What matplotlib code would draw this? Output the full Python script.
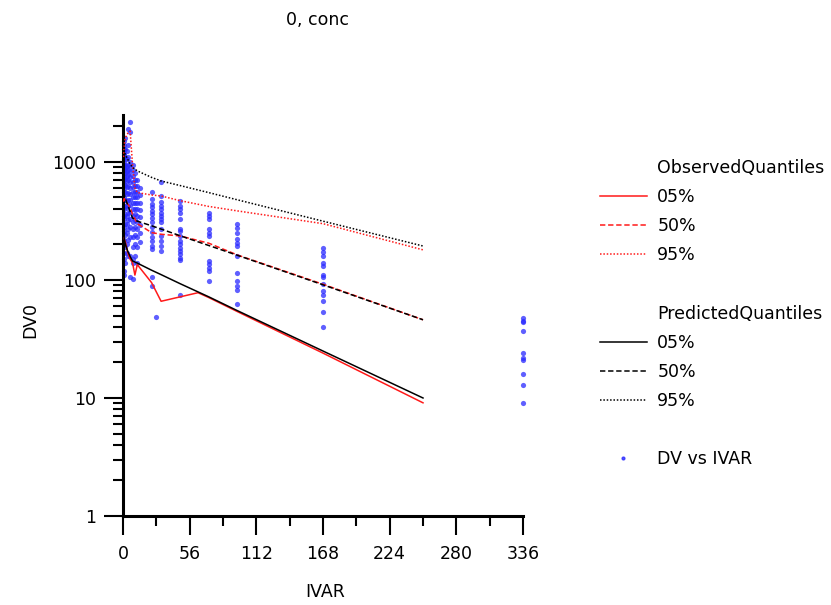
import matplotlib
matplotlib.use('Agg')
import matplotlib.pyplot as plt
from matplotlib.lines import Line2D
from matplotlib.ticker import FixedLocator, FixedFormatter, LogLocator, NullFormatter
import numpy as np

# observed data, grouped by time point
early_times = [0.5, 1, 2, 3, 4, 6, 8, 10, 12, 14]
early_values = [
    [1500, 1300, 1150, 1000, 900, 800, 700, 600, 500, 420, 350, 280, 220, 170, 120],
    [1400, 1200, 1050, 950, 850, 750, 650, 560, 480, 400, 330, 260, 200, 150, 110],
    [1600, 1300, 1100, 950, 880, 800, 720, 640, 560, 480, 420, 360, 300, 240, 190, 140],
    [1250, 1050, 920, 840, 760, 690, 610, 540, 470, 410, 350, 300, 250, 200, 170],
    [1900, 1400, 1100, 950, 850, 780, 700, 620, 550, 480, 420, 370, 320, 270, 220, 160],
    [2200, 1800, 1000, 900, 820, 750, 680, 600, 540, 480, 430, 380, 330, 280, 230, 160, 105],
    [950, 850, 760, 680, 610, 560, 500, 450, 400, 350, 310, 270, 230, 190, 150, 140, 101],
    [800, 700, 620, 560, 500, 450, 400, 360, 320, 280, 240, 200, 160],
    [700, 620, 560, 500, 450, 400, 350, 310, 270, 230, 190, 140],
    [600, 520, 450, 390, 340, 290, 250, 210],
]
late_times = [24, 28, 32, 48, 72, 96, 168, 336]
late_values = [
    [555, 484, 440, 414, 385, 361, 335, 308, 280, 254, 233, 213, 195, 182, 107, 89],
    [49],
    [671, 516, 454, 425, 398, 373, 349, 327, 307, 269, 236, 214, 194, 176],
    [468, 425, 398, 373, 327, 269, 260, 236, 214, 200, 188, 176, 165, 155, 149, 75],
    [373, 349, 327, 269, 251, 236, 145, 136, 127, 119, 98],
    [297, 278, 250, 221, 207, 194, 160, 115, 98, 89, 83, 62],
    [185, 171, 160, 140, 131, 111, 105, 92, 80, 75, 66, 54, 40],
    [48, 45, 44, 37, 24, 22, 21, 16, 13, 9],
]

# observed quantiles
obs_t05 = [0.5, 2, 4, 6, 8, 10, 12, 24, 32, 63, 72, 96, 168, 252]
obs_05 = [230, 210, 170, 150, 140, 110, 135, 95, 66, 78, 71, 54, 24, 9.1]
obs_t = [0.5, 1, 2, 4, 6, 8, 10, 12, 24, 32, 48, 72, 96, 168, 252]
obs_50 = [460, 490, 470, 440, 410, 360, 330, 300, 252, 244, 236, 205, 163, 92, 46]
obs_95 = [1100, 1400, 1600, 1750, 1820, 950, 600, 550, 525, 515, 470, 420, 385, 300, 180]

# predicted quantiles
pred_t = [0.5, 1, 2, 4, 6, 8, 12, 24, 32, 48, 72, 96, 168, 252]
pred_05 = [240, 225, 200, 175, 158, 145, 139, 121, 111, 93, 72, 55, 25, 10]
pred_50 = [560, 530, 490, 430, 380, 335, 315, 288, 270, 237, 196, 162, 91, 46]
pred_95 = [1350, 1250, 1150, 1050, 960, 900, 840, 740, 690, 631, 550, 478, 315, 194]

x_ticks = [0, 56, 112, 168, 224, 280, 336]
y_ticks = [1, 10, 100, 1000]

DASHED = (0, (3.5, 1.8))
DOTTED = (0, (1, 1.2))
RED = '#ff1a1a'
DOT_COLOR = '#2a2aff'

fig = plt.figure(figsize=(8.31, 6.05), dpi=100)
ax = fig.add_axes([123 / 831, 1 - 516 / 605, 400 / 831, 401 / 605])

xs, ys = [], []
for t, vals in zip(early_times + late_times, early_values + late_values):
    xs += [t] * len(vals)
    ys += vals
ax.scatter(xs, ys, s=14, color=DOT_COLOR, alpha=0.75, linewidths=0,
           clip_on=False, zorder=2)

lw = 1.1
ax.plot(obs_t05, obs_05, color=RED, lw=lw, ls='-', zorder=3)
ax.plot(obs_t, obs_50, color=RED, lw=lw, ls=DASHED, zorder=3)
ax.plot(obs_t, obs_95, color=RED, lw=lw, ls=DOTTED, zorder=3)
ax.plot(pred_t, pred_05, color='black', lw=lw, ls='-', zorder=3)
ax.plot(pred_t, pred_50, color='black', lw=lw, ls=DASHED, zorder=3)
ax.plot(pred_t, pred_95, color='black', lw=lw, ls=DOTTED, zorder=3)

ax.set_yscale('log')
ax.set_xlim(0, 336)
ax.set_ylim(1, 2500)

ax.xaxis.set_major_locator(FixedLocator(x_ticks))
ax.xaxis.set_minor_locator(FixedLocator([28, 84, 140, 196, 252, 308]))
ax.yaxis.set_major_locator(FixedLocator(y_ticks))
ax.yaxis.set_major_formatter(FixedFormatter([str(v) for v in y_ticks]))
ax.yaxis.set_minor_locator(LogLocator(base=10, subs=np.arange(2, 10)))
ax.yaxis.set_minor_formatter(NullFormatter())

for side in ['top', 'right']:
    ax.spines[side].set_visible(False)
for side in ['left', 'bottom']:
    ax.spines[side].set_linewidth(2.2)

ax.tick_params(which='major', length=14, width=1.5, labelsize=12.5,
               direction='out', color='black')
ax.tick_params(which='minor', length=7, width=1.5, direction='out')
ax.tick_params(axis='x', which='major', pad=7)
ax.tick_params(axis='y', which='major', pad=5)

fig.text(318 / 831, 1 - 20 / 605, '0, conc', ha='center', va='center',
         fontsize=12.5)
fig.text(30 / 831, 1 - 320 / 605, 'DV0', ha='center', va='center',
         rotation=90, fontsize=12.5)
fig.text(325 / 831, 1 - 592 / 605, 'IVAR', ha='center', va='center',
         fontsize=12.5)

# legend with group headers and blank spacer rows
blank = Line2D([], [], color='none')
handles = [
    blank,
    Line2D([], [], color=RED, lw=lw, ls='-'),
    Line2D([], [], color=RED, lw=lw, ls=DASHED),
    Line2D([], [], color=RED, lw=lw, ls=DOTTED),
    blank,
    blank,
    Line2D([], [], color='black', lw=lw, ls='-'),
    Line2D([], [], color='black', lw=lw, ls=DASHED),
    Line2D([], [], color='black', lw=lw, ls=DOTTED),
    blank,
    Line2D([], [], color=DOT_COLOR, marker='o', markersize=2, ls='none',
           alpha=0.8),
]
labels = ['ObservedQuantiles', '05%', '50%', '95%', '',
          'PredictedQuantiles', '05%', '50%', '95%', '', 'DV vs IVAR']
fig.legend(handles, labels, loc='upper left',
           bbox_to_anchor=(600 / 831, 1 - 159 / 605),
           bbox_transform=fig.transFigure, frameon=False, fontsize=12.5,
           handlelength=2.7, handletextpad=0.6, labelspacing=0.64,
           borderpad=0, borderaxespad=0)

fig.savefig('out.png', dpi=100)
